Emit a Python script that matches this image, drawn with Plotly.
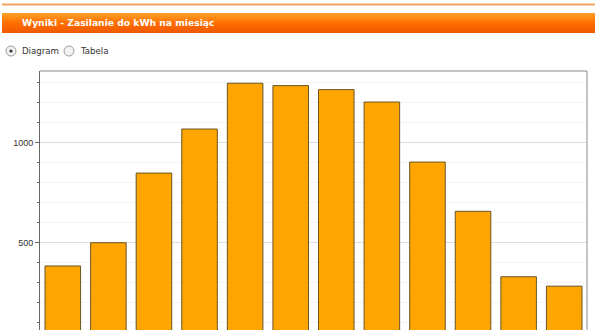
import plotly.graph_objects as go

months = ["Sty", "Lut", "Mar", "Kwi", "Maj", "Cze", "Lip", "Sie", "Wrz", "Paź", "Lis", "Gru"]
kwh = [384, 500, 848, 1068, 1297, 1285, 1265, 1203, 903, 657, 330, 283]
tick_vals = [500, 1000]
tick_text = ["500", "1000"]

W, H = 600, 330
L, R, T, B = 40, 587, 71, 330
pw, ph = R - L, B - T

def px(x):
    return (x - L) / pw

def py(y):
    return (B - y) / ph

fig = go.Figure(go.Bar(
    x=months, y=kwh,
    marker=dict(color="#FFA500", line=dict(color="#6a5523", width=1)),
    width=0.78,
))

shapes = []
# top thin line
shapes.append(dict(type="rect", xref="paper", yref="paper", x0=px(2), x1=px(595), y0=py(5.5), y1=py(3.5),
                   fillcolor="#F5A35F", line=dict(width=0), layer="above"))
# header gradient
def lerp(c1, c2, t):
    return "#%02x%02x%02x" % tuple(int(round(a + (b - a) * t)) for a, b in zip(c1, c2))
top_c = (255, 160, 40)
mid_c = (255, 110, 0)
bot_c = (240, 90, 0)
y0, y1 = 13, 33
n = y1 - y0
for i in range(n):
    t = i / (n - 1)
    c = lerp(top_c, mid_c, t * 2) if t < 0.5 else lerp(mid_c, bot_c, (t - 0.5) * 2)
    shapes.append(dict(type="rect", xref="paper", yref="paper", x0=px(2), x1=px(595),
                       y0=py(y0 + i + 1), y1=py(y0 + i), fillcolor=c, line=dict(width=0), layer="above"))
# radio buttons
for cx in (11, 69):
    shapes.append(dict(type="circle", xref="paper", yref="paper", x0=px(cx - 5), x1=px(cx + 5),
                       y0=py(51 + 5), y1=py(51 - 5), fillcolor="#f2f2f2",
                       line=dict(color="#9a9a9a", width=1), layer="above"))
shapes.append(dict(type="circle", xref="paper", yref="paper", x0=px(11 - 1.6), x1=px(11 + 1.6),
                   y0=py(51 + 1.6), y1=py(51 - 1.6), fillcolor="#333333",
                   line=dict(width=0), layer="above"))
# plot frame top and right
shapes.append(dict(type="line", xref="paper", yref="paper", x0=0, x1=1, y0=1, y1=1,
                   line=dict(color="#8a8a8a", width=1), layer="above"))
shapes.append(dict(type="line", xref="paper", yref="paper", x0=1, x1=1, y0=0, y1=1,
                   line=dict(color="#8a8a8a", width=1), layer="above"))

annotations = [
    dict(text="<b>Wyniki - Zasilanie do kWh na miesiąc</b>", xref="paper", yref="paper",
         x=px(20), y=py(23), xanchor="left", yanchor="middle", showarrow=False,
         font=dict(family="DejaVu Sans", size=9.2, color="white")),
    dict(text="Diagram", xref="paper", yref="paper", x=px(19.5), y=py(51), xanchor="left",
         yanchor="middle", showarrow=False, font=dict(family="DejaVu Sans", size=8.6, color="#333")),
    dict(text="Tabela", xref="paper", yref="paper", x=px(77.5), y=py(51), xanchor="left",
         yanchor="middle", showarrow=False, font=dict(family="DejaVu Sans", size=8.6, color="#333")),
]

fig.update_layout(
    width=W, height=H,
    margin=dict(l=L, r=W - R, t=T, b=H - B, pad=0),
    paper_bgcolor="white", plot_bgcolor="white",
    showlegend=False,
    bargap=0.22,
    shapes=shapes, annotations=annotations,
    xaxis=dict(showticklabels=False, ticks="", showgrid=False, zeroline=False, showline=False,
               range=[-0.5, 11.5]),
    yaxis=dict(range=[64, 1358], tickvals=tick_vals, ticktext=tick_text, ticks="outside",
               ticklen=4, tickcolor="#666", showline=True, linecolor="#666", linewidth=1,
               showgrid=True, gridcolor="#dddddd", gridwidth=1, zeroline=False,
               tickfont=dict(family="Liberation Sans", size=9, color="#333"),
               minor=dict(dtick=100, tick0=0, ticks="outside", ticklen=2, tickcolor="#666",
                          showgrid=True, gridcolor="#f3f3f3", gridwidth=1)),
)

fig.write_html("out.html")
